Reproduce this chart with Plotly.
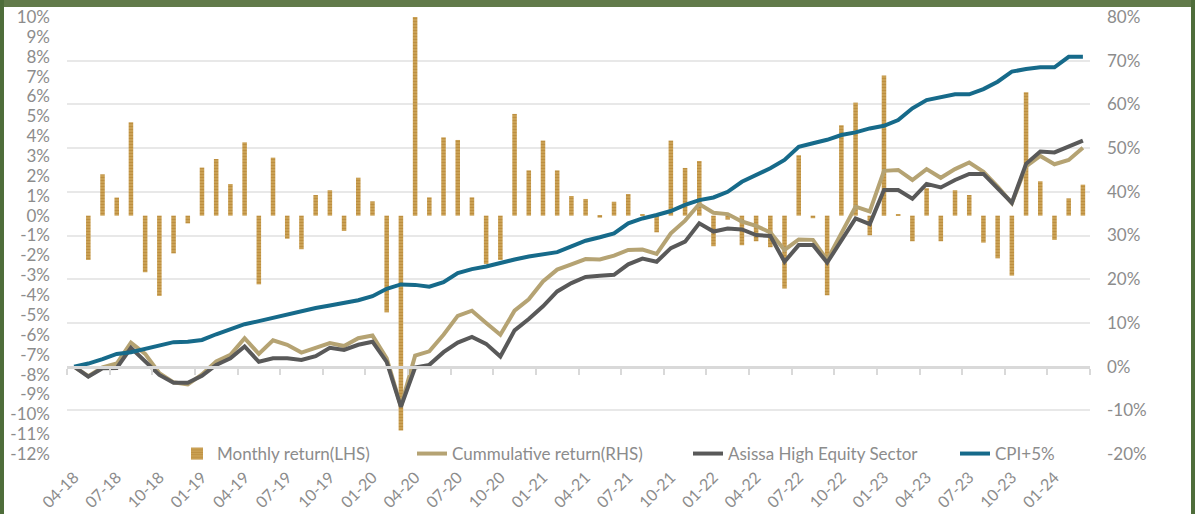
import numpy as np
import pandas as pd
import plotly.graph_objects as go

# ---------------- data ----------------
months = [d.strftime('%m-%y') for d in pd.date_range('2018-04-01', periods=72, freq='MS')]

monthly_return = [0, -2.23, 2.08, 0.91, 4.70, -2.85, -4.04, -1.90, -0.39, 2.42,
                  2.85, 1.59, 3.69, -3.46, 2.92, -1.16, -1.69, 1.04, 1.28, -0.77,
                  1.91, 0.72, -4.87, -10.82, 12.9, 0.92, 3.94, 3.81, 0.92, -2.43,
                  -2.23, 5.12, 2.28, 3.78, 2.28, 0.99, 0.84, -0.10, 0.70, 1.09,
                  0.07, -0.84, 3.78, 2.40, 2.75, -1.54, -0.20, -1.49, -1.29, -1.59,
                  -3.67, 3.04, -0.13, -4.01, 4.55, 5.69, -0.99, 7.05, 0.07, -1.29,
                  1.38, -1.29, 1.28, 1.04, -1.36, -2.15, -3.02, 6.21, 1.73, -1.22,
                  0.87, 1.56]

cumulative_return = [0, -2.2, -0.2, 0.7, 5.5, 2.9, -1.5, -3.6, -4.1, -1.8,
                     1.2, 2.7, 6.5, 2.9, 6.0, 5.0, 3.2, 4.2, 5.4, 4.7,
                     6.5, 7.1, 1.9, -9.1, 2.5, 3.5, 7.3, 11.6, 12.8, 10.0,
                     7.3, 12.8, 15.4, 19.5, 22.2, 23.4, 24.6, 24.5, 25.4, 26.7,
                     26.8, 25.8, 30.5, 33.4, 37.2, 35.2, 34.9, 33.2, 32.2, 30.7,
                     26.7, 29.1, 29.0, 24.4, 30.7, 36.6, 35.5, 44.8, 45.0, 42.7,
                     45.2, 43.2, 45.2, 46.7, 44.6, 41.2, 37.4, 45.8, 48.2, 46.3,
                     47.3, 50.1]

sector_return = [0, -2.3, -0.4, -0.3, 4.3, 1.1, -1.9, -3.7, -3.7, -2.1,
                 0.4, 1.9, 4.6, 1.1, 1.9, 1.9, 1.5, 2.4, 4.3, 3.8,
                 5.0, 5.7, 1.1, -9.2, -0.2, 0.4, 3.3, 5.5, 6.8, 5.2,
                 2.3, 8.3, 10.9, 13.8, 17.2, 19.1, 20.5, 20.8, 21.0, 23.4,
                 24.7, 24.0, 27.1, 28.6, 32.8, 30.9, 31.6, 31.4, 30.1, 29.9,
                 24.0, 27.8, 27.8, 23.8, 29.0, 33.9, 32.6, 40.4, 40.4, 38.4,
                 41.8, 41.0, 42.7, 44.1, 44.1, 40.8, 37.5, 46.4, 49.2, 49.0,
                 50.3, 51.7]

cpi_plus5 = [0, 0.7, 1.7, 2.9, 3.3, 4.1, 4.9, 5.6, 5.7, 6.1,
             7.4, 8.6, 9.7, 10.4, 11.2, 11.9, 12.7, 13.4, 14.0, 14.6,
             15.2, 16.1, 17.8, 18.8, 18.7, 18.3, 19.3, 21.4, 22.3, 22.9,
             23.8, 24.5, 25.2, 25.7, 26.2, 27.5, 28.8, 29.6, 30.5, 32.8,
             33.9, 34.7, 35.6, 37.0, 38.1, 38.7, 40.0, 42.3, 43.9, 45.4,
             47.3, 50.3, 51.1, 51.9, 53.0, 53.6, 54.5, 55.1, 56.4, 59.1,
             61.0, 61.6, 62.3, 62.3, 63.5, 65.2, 67.5, 68.1, 68.5, 68.5,
             70.9, 70.9]

left_ticks = list(range(-12, 11))
left_labels = [f"{v}%" for v in left_ticks]
right_ticks = list(range(-20, 81, 10))
right_labels = [f"{v}%" for v in right_ticks]
x_tick_labels = months[::3]

# ---------------- style ----------------
FONT = "Lato"
GREY_TXT = "#8C8C8C"
BAR_DARK = "#A8741E"
BAR_LIGHT = "#D2AB62"
TAN = "#B5A373"
DARK = "#595959"
TEAL = "#166A8A"

fig = go.Figure()

fig.add_trace(go.Bar(
    x=months, y=monthly_return, name="Monthly return(LHS)", width=0.32,
    marker=dict(color=BAR_DARK, line=dict(width=0),
                pattern=dict(shape="-", fgcolor=BAR_DARK, bgcolor=BAR_LIGHT,
                             size=3, solidity=0.6)),
    legend="legend", hoverinfo="skip"))

fig.add_trace(go.Scatter(
    x=months, y=cumulative_return, yaxis="y2", mode="lines",
    line=dict(color=TAN, width=4), name="Cummulative return(RHS)",
    legend="legend2"))
fig.add_trace(go.Scatter(
    x=months, y=sector_return, yaxis="y2", mode="lines",
    line=dict(color=DARK, width=4), name="Asissa High Equity Sector",
    legend="legend3"))
fig.add_trace(go.Scatter(
    x=months, y=cpi_plus5, yaxis="y2", mode="lines",
    line=dict(color=TEAL, width=4), name="CPI+5%",
    legend="legend4"))

# dummy trace to activate the secondary (zero-line) x axis
fig.add_trace(go.Scatter(x=[], y=[], xaxis="x2", yaxis="y2",
                         showlegend=False, hoverinfo="skip"))

W, H = 1195, 514
L, R, T, B = 67, 105, 17, 60
pw = W - L - R
ph = H - T - B

def px_x(px):
    return (px - L) / pw

def px_y(py):
    return (H - B - py) / ph

legend_common = dict(orientation="h", yanchor="middle", y=0, xanchor="left",
                     bgcolor="rgba(0,0,0,0)", font=dict(family=FONT, size=17, color=GREY_TXT))

fig.update_layout(
    width=W, height=H,
    margin=dict(l=L, r=R, t=T, b=B, pad=0, autoexpand=False),
    paper_bgcolor="white", plot_bgcolor="white",
    font=dict(family=FONT, size=16, color=GREY_TXT),
    bargap=0.7,
    xaxis=dict(type="category", range=[-0.5, 71.5], tickmode="array",
               tickvals=x_tick_labels, ticktext=x_tick_labels, tickangle=-45,
               showgrid=False, showline=False, zeroline=False, ticks="",
               ticklabelstandoff=10, automargin=False,
               tickfont=dict(family=FONT, size=16, color=GREY_TXT)),
    xaxis2=dict(overlaying="x", anchor="free", position=0.2, type="linear",
                range=[-0.5, 71.5], tickmode="array",
                tickvals=list(np.arange(-0.5, 72, 3)),
                showticklabels=False, ticks="outside", ticklen=6, tickwidth=2,
                tickcolor="#D9D9D9", showline=True, linecolor="#D9D9D9",
                linewidth=3, showgrid=False, zeroline=False, automargin=False),
    yaxis=dict(range=[-12, 10], tickmode="array", tickvals=left_ticks,
               ticktext=left_labels, showgrid=False, zeroline=False,
               showline=False, ticks="", ticklabelstandoff=16, automargin=False,
               tickfont=dict(family=FONT, size=17, color=GREY_TXT)),
    yaxis2=dict(range=[-20, 80], overlaying="y", side="right", tickmode="array",
                tickvals=right_ticks, ticktext=right_labels, showgrid=True,
                gridcolor="#E8E8E8", gridwidth=1.5, zeroline=False,
                showline=False, ticks="", ticklabelstandoff=16, automargin=False,
                tickfont=dict(family=FONT, size=17, color=GREY_TXT)),
    legend=dict(x=px_x(177), **legend_common),
    legend2=dict(x=px_x(412), **legend_common),
    legend3=dict(x=px_x(688), **legend_common),
    legend4=dict(x=px_x(955), **legend_common),
    showlegend=True,
)

# green frame of the chart box
FRAME_TOP = "#617A4A"
FRAME_SIDE = "#4E6D3A"
frame = [
    (0, 0, W, 7, FRAME_TOP),
    (0, 0, 4, H, FRAME_SIDE),
    (W - 4, 0, W, H, FRAME_SIDE),
]
for x0, y0, x1, y1, c in frame:
    fig.add_shape(type="rect", xref="paper", yref="paper",
                  x0=px_x(x0), x1=px_x(x1), y0=px_y(y1), y1=px_y(y0),
                  line=dict(width=0), fillcolor=c, layer="above")

fig.write_html("out.html", config={"displayModeBar": False},
               post_script="document.body.style.margin='0';")
